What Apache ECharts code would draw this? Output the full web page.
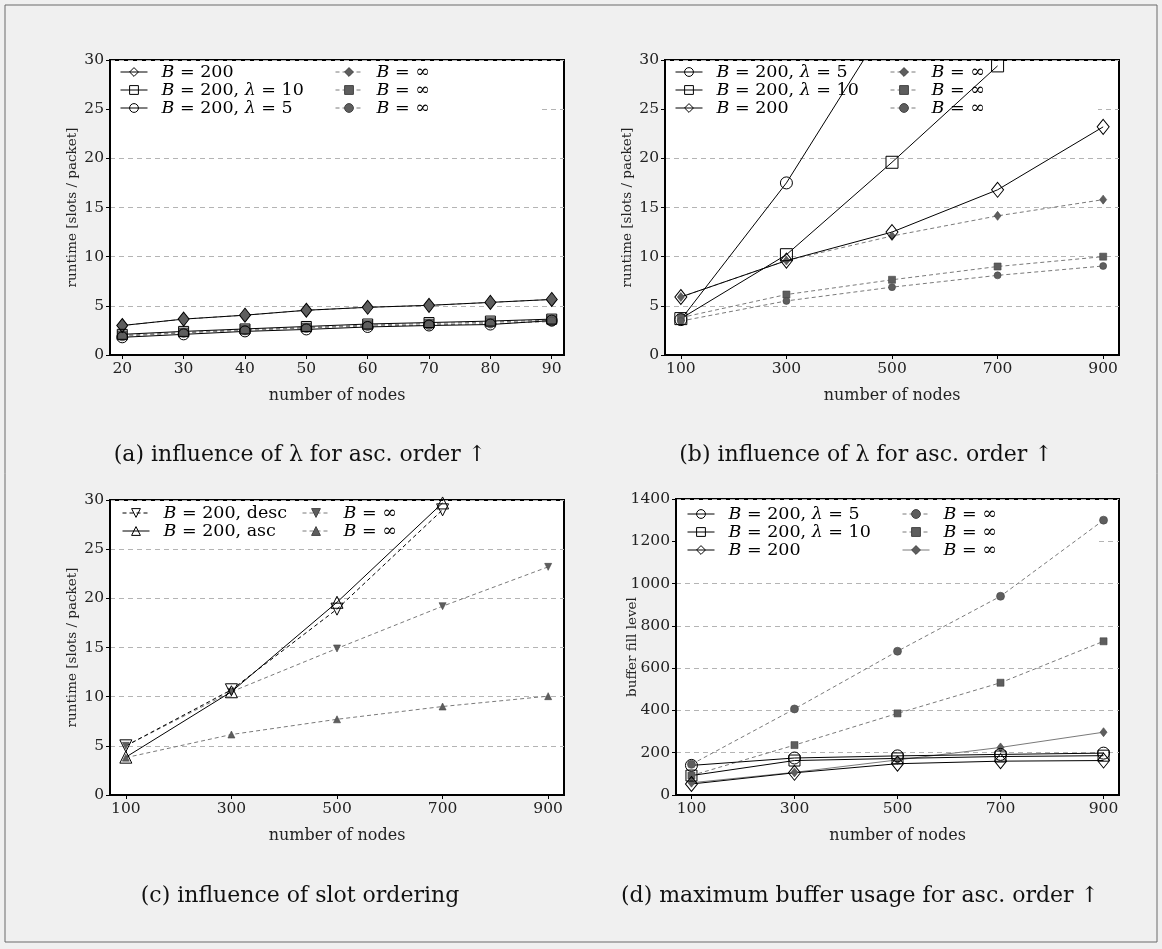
<!DOCTYPE html>
<html><head><meta charset="utf-8">
<script src="https://cdn.jsdelivr.net/npm/echarts@6/dist/echarts.min.js"></script>
<style>html,body{margin:0;padding:0;background:#f0f0f0}#c{width:1162px;height:949px}</style>
</head><body><div id="c"></div><script>
// ---------- data ----------
const nodesSmall = [20, 30, 40, 50, 60, 70, 80, 90];
const nodesLarge = [100, 300, 500, 700, 900];

// (a) influence of lambda, small networks
const aB200      = [3.0, 3.65, 4.05, 4.55, 4.85, 5.05, 5.35, 5.65];
const aB200L10   = [2.1, 2.4, 2.65, 2.9, 3.15, 3.3, 3.45, 3.65];
const aB200L5    = [1.8, 2.1, 2.4, 2.6, 2.85, 3.0, 3.1, 3.5];
const aInfDia    = [3.0, 3.65, 4.05, 4.55, 4.85, 5.05, 5.35, 5.65];
const aInfSq     = [2.0, 2.3, 2.6, 2.8, 3.05, 3.2, 3.35, 3.55];
const aInfCirc   = [1.9, 2.25, 2.5, 2.75, 2.95, 3.05, 3.2, 3.4];

// (b) influence of lambda, large networks
const bB200L5    = [3.6, 17.5, 34.6];
const bB200L10   = [3.7, 10.2, 19.6, 29.4];
const bB200      = [5.9, 9.6, 12.5, 16.8, 23.2];
const bInfDia    = [5.9, 9.6, 12.1, 14.15, 15.8];
const bInfSq     = [3.8, 6.15, 7.65, 9.0, 10.0];
const bInfCirc   = [3.45, 5.5, 6.9, 8.1, 9.05];

// (c) slot ordering
const cDesc      = [5.0, 10.7, 18.9, 29.0];
const cAsc       = [3.85, 10.5, 19.6, 29.7];
const cInfDesc   = [5.0, 10.5, 14.9, 19.2, 23.2];
const cInfAsc    = [3.8, 6.15, 7.7, 9.0, 10.05];

// (d) maximum buffer usage
const dB200L5    = [140, 175, 185, 192, 198];
const dB200L10   = [92, 163, 173, 182, 186];
const dB200      = [52, 105, 148, 160, 163];
const dInfCirc   = [145, 407, 680, 940, 1300];
const dInfSq     = [92, 236, 386, 531, 727];
const dInfDia    = [58, 107, 166, 225, 297];

const captions = [
  '(a) influence of λ for asc. order ↑',
  '(b) influence of λ for asc. order ↑',
  '(c) influence of slot ordering',
  '(d) maximum buffer usage for asc. order ↑'
];
const yNames = ['runtime [slots / packet]', 'runtime [slots / packet]', 'runtime [slots / packet]', 'buffer fill level'];
const xName = 'number of nodes';

const LBL = {
  b200: '{i|B} = 200',
  l10: '{i|B} = 200, {i|λ} = 10',
  l5: '{i|B} = 200, {i|λ} = 5',
  inf: '{i|B} = ∞',
  desc: '{i|B} = 200, desc',
  asc: '{i|B} = 200, asc'
};

// ---------- styles ----------
const FONT = 'DejaVu Serif';
const GRAY_FILL = '#5e5e5e';
const GRAY_LINE = '#7a7a7a';
const DASH = [4, 3];

function hollow(symbol, size, dashed, rotate) {
  return {
    symbol, symbolSize: size, symbolRotate: rotate || 0,
    itemStyle: { color: 'rgba(255,255,255,0)', borderColor: '#000', borderWidth: 1 },
    lineStyle: { color: '#000', width: 1, type: dashed ? DASH : 'solid' }
  };
}
function filled(symbol, size, dashed, rotate) {
  return {
    symbol, symbolSize: size, symbolRotate: rotate || 0,
    itemStyle: { color: GRAY_FILL, borderColor: '#444', borderWidth: 0.6 },
    lineStyle: { color: GRAY_LINE, width: 1, type: dashed ? DASH : 'solid' }
  };
}

const grids = [
  { left: 110, top: 60, width: 454, height: 295 },
  { left: 665, top: 60, width: 454, height: 295 },
  { left: 110, top: 500, width: 454, height: 295 },
  { left: 676, top: 499, width: 443, height: 296 }
];

const series = [];
const labelOf = {};
function add(id, label, gi, xs, ys, sty) {
  labelOf[id] = label;
  series.push(Object.assign({
    type: 'line', name: id, xAxisIndex: gi, yAxisIndex: gi,
    data: ys.map((v, i) => [xs[i], v]),
    animation: false, silent: true, clip: true,
    emphasis: { disabled: true }
  }, sty));
}

// panel a (filled first, drawn under hollow)
add('a4', LBL.inf, 0, nodesSmall, aInfDia, filled('diamond', [10, 13], true));
add('a5', LBL.inf, 0, nodesSmall, aInfSq, filled('rect', 9, true));
add('a6', LBL.inf, 0, nodesSmall, aInfCirc, filled('circle', 9, true));
add('a1', LBL.b200, 0, nodesSmall, aB200, hollow('diamond', [11, 14]));
add('a2', LBL.l10, 0, nodesSmall, aB200L10, hollow('rect', 10));
add('a3', LBL.l5, 0, nodesSmall, aB200L5, hollow('circle', 11));
// panel b
add('b4', LBL.inf, 1, nodesLarge, bInfDia, filled('diamond', [7, 9], true));
add('b5', LBL.inf, 1, nodesLarge, bInfSq, filled('rect', 7, true));
add('b6', LBL.inf, 1, nodesLarge, bInfCirc, filled('circle', 7, true));
add('b1', LBL.l5, 1, nodesLarge, bB200L5, hollow('circle', 12));
add('b2', LBL.l10, 1, nodesLarge, bB200L10, hollow('rect', 12));
add('b3', LBL.b200, 1, nodesLarge, bB200, hollow('diamond', [12, 15]));
// panel c
add('c3', LBL.inf, 2, nodesLarge, cInfDesc, filled('triangle', 7, true, 180));
add('c4', LBL.inf, 2, nodesLarge, cInfAsc, filled('triangle', 7, true));
add('c1', LBL.desc, 2, nodesLarge, cDesc, hollow('triangle', 12, true, 180));
add('c2', LBL.asc, 2, nodesLarge, cAsc, hollow('triangle', 12, false));
// panel d
add('d4', LBL.inf, 3, nodesLarge, dInfCirc, filled('circle', 8, true));
add('d5', LBL.inf, 3, nodesLarge, dInfSq, filled('rect', 7, true));
add('d6', LBL.inf, 3, nodesLarge, dInfDia, filled('diamond', [7, 9], false));
add('d1', LBL.l5, 3, nodesLarge, dB200L5, hollow('circle', 12));
add('d2', LBL.l10, 3, nodesLarge, dB200L10, hollow('rect', 11));
add('d3', LBL.b200, 3, nodesLarge, dB200, hollow('diamond', [12, 15]));

function legend(names, left, top) {
  return {
    data: names, left, top, orient: 'vertical', padding: 0,
    itemWidth: 27, itemHeight: 11, itemGap: 0, selectedMode: false, z: 4,
    itemStyle: { borderWidth: 1 },
    lineStyle: { width: 1 },
    formatter: n => '{sp| }' + labelOf[n],
    textStyle: {
      fontFamily: FONT, fontSize: 17.5, color: '#000', lineHeight: 18,
      rich: {
        i: { fontFamily: FONT, fontStyle: 'italic', fontSize: 17.5, lineHeight: 18 },
        sp: { width: 9 }
      }
    }
  };
}

const xAxis = grids.map((g, i) => {
  const small = i === 0;
  const ticks = small ? nodesSmall : nodesLarge;
  return {
    type: 'value', gridIndex: i,
    min: small ? 18 : 70, max: small ? 92 : 930,
    name: xName, nameLocation: 'middle', nameGap: 33,
    nameTextStyle: { fontFamily: FONT, fontSize: 16, color: '#222' },
    axisLine: { show: true, onZero: false, lineStyle: { color: '#000', width: 2 } },
    axisTick: { show: true, inside: false, length: 4, customValues: ticks, lineStyle: { color: '#000' } },
    axisLabel: { customValues: ticks, fontFamily: FONT, fontSize: 15.5, color: '#222', margin: 6 },
    splitLine: { show: false }
  };
});
const yAxis = grids.map((g, i) => {
  const buf = i === 3;
  return {
    type: 'value', gridIndex: i,
    min: 0, max: buf ? 1400 : 30, interval: buf ? 200 : 5,
    name: yNames[i], nameLocation: 'middle', nameGap: buf ? 37 : 31, nameMoveOverlap: false,
    nameTextStyle: { fontFamily: FONT, fontSize: 13.5, color: '#222' },
    axisLine: { show: true, lineStyle: { color: '#000', width: 2 } },
    axisTick: { show: true, inside: false, length: 4, lineStyle: { color: '#000' } },
    axisLabel: { fontFamily: FONT, fontSize: 15.5, color: '#222', margin: 6, formatter: v => String(v) },
    splitLine: { show: true, lineStyle: { color: '#b4b4b4', width: 1, type: [5, 4] } }
  };
});

const capPos = [[300, 455], [866, 455], [300, 896], [860, 896]];
const graphic = [
  { type: 'rect', shape: { x: 5, y: 5, width: 1152, height: 937 }, style: { fill: 'none', stroke: '#6a6a6a', lineWidth: 1 }, z: 0, silent: true },
  // legend boxes (white backgrounds hiding grid lines)
  { type: 'rect', shape: { x: 111, y: 61, width: 429, height: 57 }, style: { fill: '#fff' }, z: 1, silent: true },
  { type: 'rect', shape: { x: 666, y: 61, width: 432, height: 57 }, style: { fill: '#fff' }, z: 1, silent: true },
  { type: 'rect', shape: { x: 677, y: 500, width: 421, height: 59 }, style: { fill: '#fff' }, z: 1, silent: true }
].concat(captions.map((t, i) => ({
  type: 'text', x: capPos[i][0], y: capPos[i][1], z: 5, silent: true,
  style: { text: t, fontFamily: FONT, fontSize: 22, fill: '#111', align: 'center', verticalAlign: 'middle' }
})));

const option = {
  backgroundColor: '#f0f0f0',
  animation: false,
  grid: grids.map(g => Object.assign({ show: true, backgroundColor: '#fff', borderColor: '#000', borderWidth: 2 }, g)),
  xAxis, yAxis,
  legend: [
    legend(['a1', 'a2', 'a3'], 120, 63), legend(['a4', 'a5', 'a6'], 335, 63),
    legend(['b1', 'b2', 'b3'], 675, 63), legend(['b4', 'b5', 'b6'], 890, 63),
    legend(['c1', 'c2'], 122, 504), legend(['c3', 'c4'], 302, 504),
    legend(['d1', 'd2', 'd3'], 687, 505), legend(['d4', 'd5', 'd6'], 902, 505)
  ],
  graphic,
  series
};
const chart = echarts.init(document.getElementById('c'), null, { renderer: 'canvas' });
chart.setOption(option);
</script></body></html>
